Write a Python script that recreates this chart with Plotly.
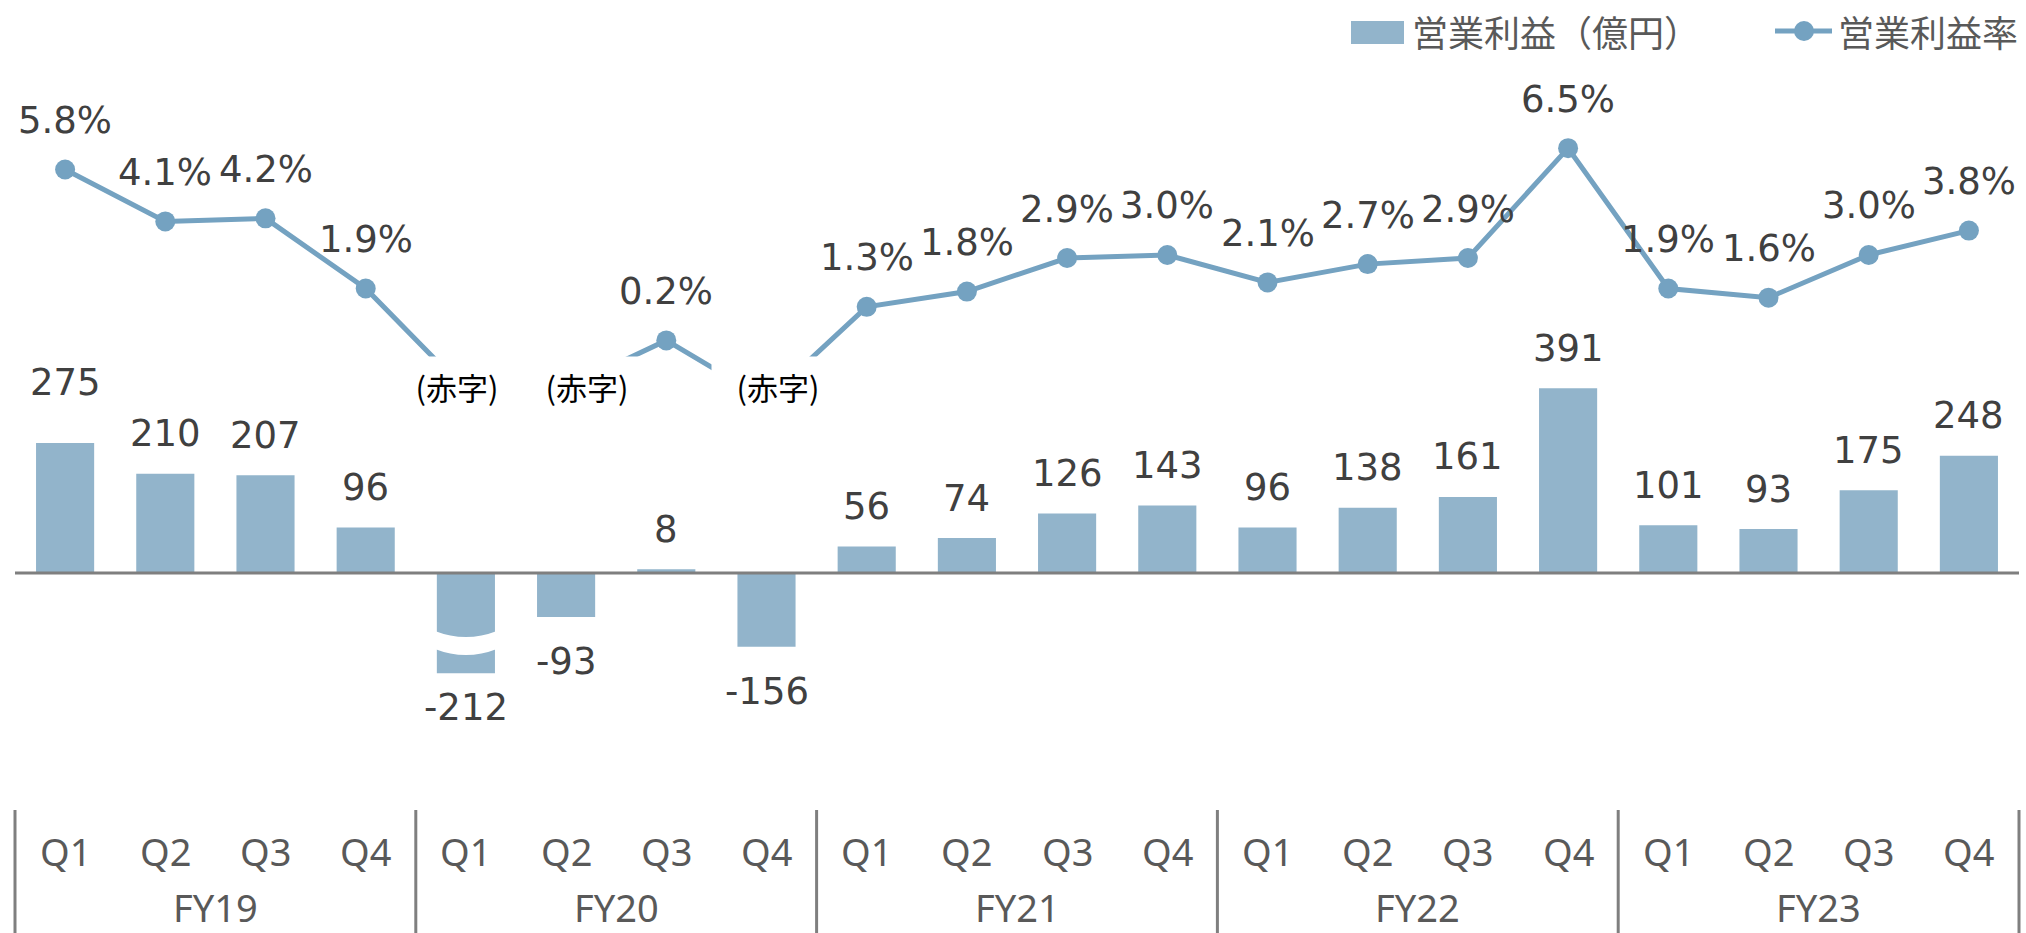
import plotly.graph_objects as go

# data
fiscal_years = ["FY19", "FY20", "FY21", "FY22", "FY23"]
quarters = ["Q1", "Q2", "Q3", "Q4"]
profit = [275, 210, 207, 96, -212, -93, 8, -156, 56, 74, 126, 143,
          96, 138, 161, 391, 101, 93, 175, 248]
# negative quarters are only drawn as the start of a cut-off line
margin = [5.8, 4.1, 4.2, 1.9, -1.45, -1.35, 0.2, -1.75, 1.3, 1.8, 2.9, 3.0,
          2.1, 2.7, 2.9, 6.5, 1.9, 1.6, 3.0, 3.8]
legend_names = ["営業利益（億円）", "営業利益率"]
loss_text = "(赤字)"

## layout geometry (pixels)
W, H = 2026, 933
ML, MR, MT, MB = 15, 7, 0, 123
PH = H - MT - MB
PW = W - ML - MR
k_bar = 130 / 275          # px per 億円
zero_bar = 573             # px of bar zero line
k_pct = 30.51              # px per %
zero_pct = 346.5           # px of 0% on the rate axis

BAR_C = "#92b4cb"
LINE_C = "#74a2c1"
TXT = "#404040"
AX_TXT = "#595959"
GRID = "#7f7f7f"
JP = "Noto Sans CJK JP"


def px_x(px):
    return (px - ML) / PW


def px_y(py):
    return (MT + PH - py) / PH


n = len(profit)
xs = list(range(n))

fig = go.Figure()
fig.add_trace(go.Bar(x=xs, y=profit, width=0.58, marker=dict(color=BAR_C, line=dict(width=0)),
                     showlegend=False, hoverinfo="skip"))
fig.add_trace(go.Scatter(x=xs, y=margin, yaxis="y2", mode="lines+markers",
                         line=dict(color=LINE_C, width=5),
                         marker=dict(color=LINE_C, size=20),
                         showlegend=False, hoverinfo="skip"))

ann = []
shapes = []

# bar value labels
shift_over = {0: 61, 4: -34}
for i, v in enumerate(profit):
    s = shift_over.get(i, 40 if v >= 0 else -45)
    ann.append(dict(x=i, y=v, xref="x", yref="y", yshift=s, text=str(v), showarrow=False,
                    yanchor="middle", font=dict(family="DejaVu Sans", size=37, color=TXT)))

# rate labels / loss boxes (white boxes also cut the line)
loss_shift = {4: -9, 5: 21, 7: 11}
for i, m in enumerate(margin):
    if m >= 0:
        ann.append(dict(x=i, y=m, xref="x", yref="y2", yshift=49, text=f"{m:.1f}%",
                        showarrow=False, yanchor="middle",
                        font=dict(family="DejaVu Sans", size=37, color=TXT)))
    else:
        ann.append(dict(x=i, y=0, xref="x", yref="y2", yshift=zero_pct - 386,
                        xshift=loss_shift.get(i, 0), text=loss_text, showarrow=False,
                        yanchor="middle", width=132, height=58, bgcolor="white", borderpad=0,
                        font=dict(family=JP, size=31, color="#000000")))

# quarter / fiscal-year labels and dividers
for i in xs:
    ann.append(dict(x=i, y=px_y(851), xref="x", yref="paper", text=quarters[i % 4],
                    showarrow=False, yanchor="middle", borderpad=0,
                    font=dict(family="Noto Sans", size=38, color=AX_TXT)))
for g, fy in enumerate(fiscal_years):
    ann.append(dict(x=g * 4 + 1.5, y=px_y(907), xref="x", yref="paper", text=fy,
                    showarrow=False, yanchor="middle", borderpad=0,
                    font=dict(family="Noto Sans", size=38, color=AX_TXT)))
for g in range(len(fiscal_years) + 1):
    xp = g * 4 / n
    shapes.append(dict(type="line", xref="paper", yref="paper", x0=xp, x1=xp,
                       y0=px_y(810), y1=px_y(H + 2), line=dict(color=GRID, width=3)))

# zero line over bars
shapes.append(dict(type="line", xref="paper", yref="y", x0=0, x1=1, y0=0, y1=0,
                   line=dict(color=GRID, width=3), layer="above"))

# break mark on the FY20 Q1 bar
def bv(py):
    return (zero_bar - py) / k_bar

bx0, bx1 = 4 - 0.31, 4 + 0.31
shapes.append(dict(type="path", xref="x", yref="y", fillcolor="white", line=dict(width=0),
                   layer="above",
                   path=(f"M {bx0},{bv(631)} Q 4,{bv(643)} {bx1},{bv(631)} "
                         f"L {bx1},{bv(649)} Q 4,{bv(661)} {bx0},{bv(649)} Z")))

# legend (drawn by hand to match the swatch sizes)
shapes.append(dict(type="rect", xref="paper", yref="paper", x0=px_x(1351), x1=px_x(1404),
                   y0=px_y(44), y1=px_y(21), fillcolor=BAR_C, line=dict(width=0)))
ann.append(dict(x=px_x(1410), y=px_y(31), xref="paper", yref="paper", text=legend_names[0],
                showarrow=False, xanchor="left", yanchor="middle",
                font=dict(family=JP, size=36, color=AX_TXT)))
shapes.append(dict(type="line", xref="paper", yref="paper", x0=px_x(1775), x1=px_x(1832),
                   y0=px_y(31), y1=px_y(31), line=dict(color=LINE_C, width=5)))
shapes.append(dict(type="circle", xref="paper", yref="paper", x0=px_x(1794), x1=px_x(1814),
                   y0=px_y(41), y1=px_y(21), fillcolor=LINE_C, line=dict(width=0)))
ann.append(dict(x=px_x(1836), y=px_y(31), xref="paper", yref="paper", text=legend_names[1],
                showarrow=False, xanchor="left", yanchor="middle",
                font=dict(family=JP, size=36, color=AX_TXT)))

fig.update_layout(
    width=W, height=H,
    margin=dict(l=ML, r=MR, t=MT, b=MB),
    plot_bgcolor="white", paper_bgcolor="white",
    showlegend=False,
    xaxis=dict(range=[-0.5, n - 0.5], showticklabels=False, showgrid=False, zeroline=False,
               showline=False, ticks=""),
    yaxis=dict(range=[-(MT + PH - zero_bar) / k_bar, (zero_bar - MT) / k_bar], visible=False,
               showgrid=False, zeroline=False),
    yaxis2=dict(range=[-(MT + PH - zero_pct) / k_pct, (zero_pct - MT) / k_pct], overlaying="y",
                visible=False, showgrid=False, zeroline=False),
    annotations=ann,
    shapes=shapes,
)

# page body has a default 8px margin; drop it so the figure fills the window
fig.write_html("out.html", config={"displayModeBar": False},
               post_script="document.body.style.margin='0';")
